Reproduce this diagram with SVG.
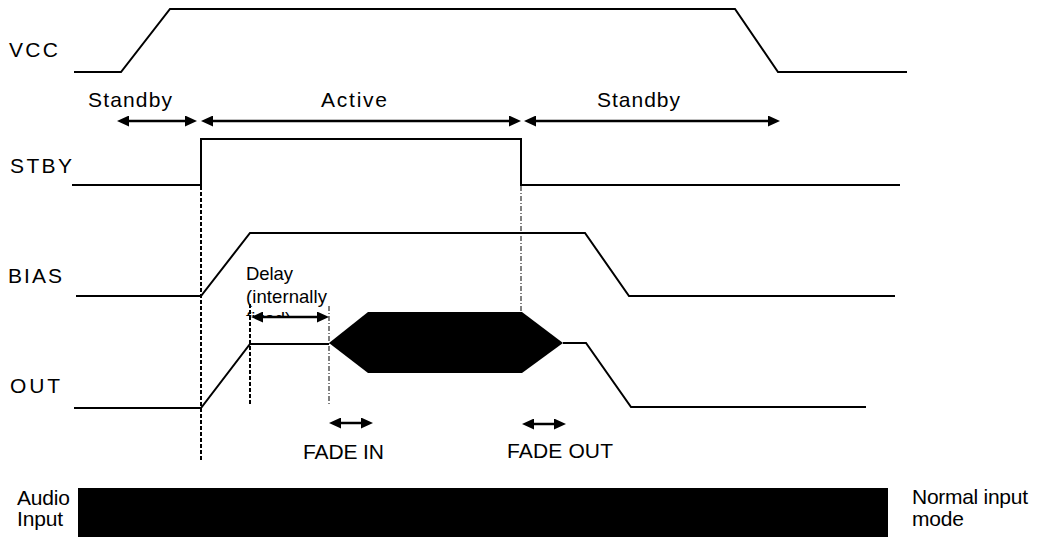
<svg xmlns="http://www.w3.org/2000/svg" width="1040" height="538" viewBox="0 0 1040 538">
<style>
text{font-family:"Liberation Sans",Arial,sans-serif;font-size:21px;fill:#000}
.sig{fill:none;stroke:#000;stroke-width:2}
.arr{fill:none;stroke:#000;stroke-width:2.5;marker-start:url(#ah);marker-end:url(#ah)}
.dash{fill:none;stroke:#000;stroke-width:2;stroke-dasharray:4 2}
.dash2{fill:none;stroke:#000;stroke-width:1;stroke-dasharray:5 2 1 2}
.sm{font-size:18.5px}
</style>
<defs>
<marker id="ah" viewBox="0 0 12 11" refX="6" refY="5.5" markerWidth="12" markerHeight="11" markerUnits="userSpaceOnUse" orient="auto-start-reverse">
<path d="M0,0 L12,5.5 L0,11 z" fill="#000"/>
</marker>
<clipPath id="delayClip"><rect x="240" y="250" width="100" height="66"/></clipPath>
</defs>
<rect width="1040" height="538" fill="#fff"/>
<g id="vcc">
<text x="9" y="57" textLength="49">VCC</text>
<polyline class="sig" points="74,72 121,72 170,9 735,9 778,72 907,72"/>
</g>
<g id="stby">
<text x="10" y="173" textLength="62">STBY</text>
<polyline class="sig" points="72,185 201,185 201,139 521,139 521,185 900,185"/>
</g>
<g id="bias">
<text x="8" y="283" textLength="54">BIAS</text>
<polyline class="sig" points="76,296 201,296 250,233 585,233 629,296 895,296"/>
</g>
<g id="out">
<text x="10" y="393" textLength="50">OUT</text>
<polyline class="sig" points="74,408 201,408 250,344 329,344"/>
<polygon points="329,343 368,312 522,312 563,343 522,373 368,373" fill="#000"/>
<polyline class="sig" points="563,343 586,343 631,407 866,407"/>
</g>
<g id="audio">
<text x="17" y="505" textLength="53">Audio</text>
<text x="17" y="526" textLength="46">Input</text>
<rect x="78" y="488" width="810" height="49" fill="#000"/>
<text x="912" y="504" textLength="116">Normal input</text>
<text x="912" y="526" textLength="52">mode</text>
</g>
<g id="states">
<text x="88" y="107" textLength="84">Standby</text>
<text x="321" y="107" textLength="66">Active</text>
<text x="597" y="107" textLength="83">Standby</text>
</g>
<g id="delay">
<g clip-path="url(#delayClip)">
<text x="246" y="280" class="sm" textLength="47">Delay</text>
<text x="246" y="303" class="sm" textLength="81">(internally</text>
<text x="246" y="325" class="sm">fixed)</text>
</g>
</g>
<g id="fade">
<text x="303" y="459" textLength="81">FADE IN</text>
<text x="507" y="458" textLength="106">FADE OUT</text>
</g>
<g id="connectors">
<line class="dash" x1="201" y1="186" x2="201" y2="460"/>
<line class="dash" x1="250" y1="304" x2="250" y2="404"/>
<line class="dash2" x1="329" y1="306" x2="329" y2="404"/>
<line class="dash2" x1="521" y1="186" x2="521" y2="312"/>
<line class="arr" x1="123" y1="121" x2="191" y2="121"/>
<line class="arr" x1="207" y1="121" x2="515" y2="121"/>
<line class="arr" x1="530" y1="121" x2="774" y2="121"/>
<line class="arr" x1="257" y1="317" x2="323" y2="317"/>
<line class="arr" x1="335" y1="423" x2="367" y2="423"/>
<line class="arr" x1="528" y1="424" x2="560" y2="424"/>
</g>
</svg>
